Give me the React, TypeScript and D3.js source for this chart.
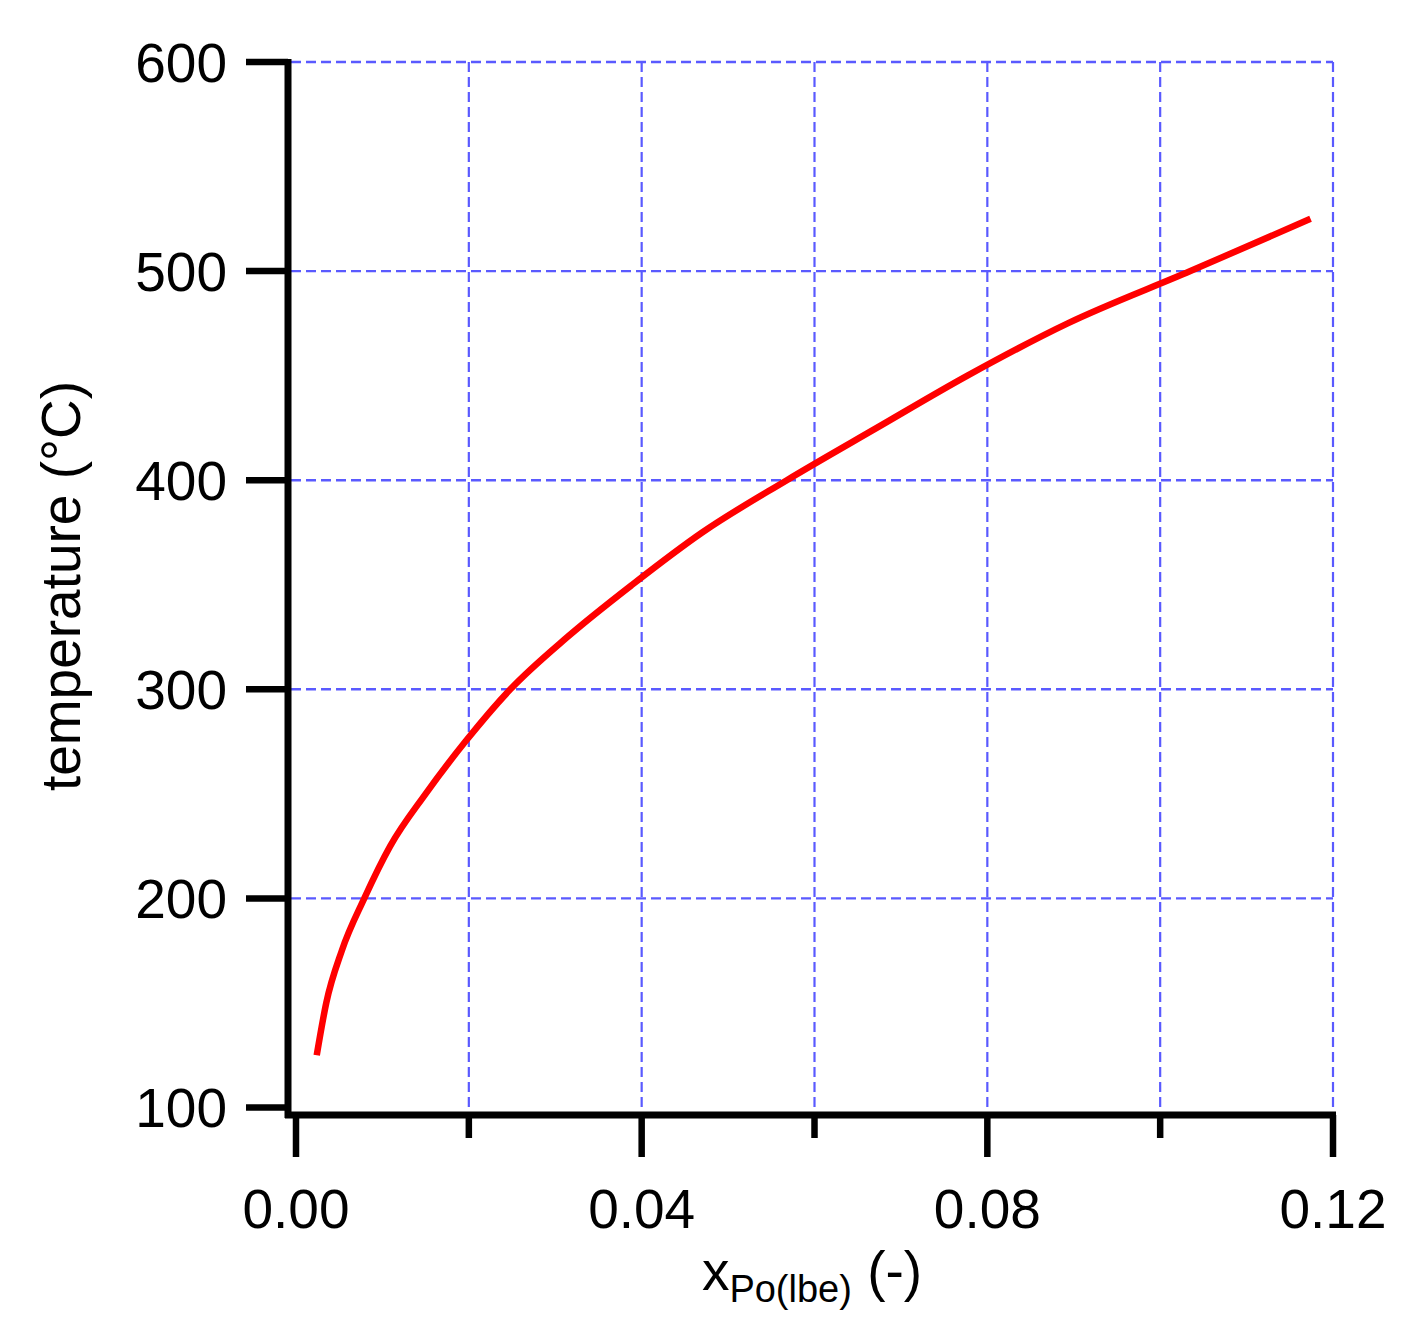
import React from "react";
import * as d3 from "d3";

// ---- data ----
const temperatureC = [125, 150, 175, 200, 225, 250, 275, 300, 325, 350, 375, 400, 425, 450, 475, 500, 525];
const xPoLbe = [0.0024, 0.0035, 0.0053, 0.0079, 0.0109, 0.015, 0.0196, 0.0248, 0.0314, 0.0389, 0.047, 0.0568, 0.0672, 0.0777, 0.0893, 0.1035, 0.1174];

const xMajorTicks = [0, 0.04, 0.08, 0.12];
const xMinorTicks = [0.02, 0.06, 0.1];
const xGridTicks = [0.02, 0.04, 0.06, 0.08, 0.1, 0.12];
const yTicks = [100, 200, 300, 400, 500, 600];
const yGridTicks = [200, 300, 400, 500, 600];

const W = 1415;
const H = 1330;
const FONT = "'Liberation Sans', Arial, Helvetica, sans-serif";
const GRID = "#5a5aff";

export default function App() {
  const x = d3.scaleLinear().domain([0, 0.12]).range([296, 1333]);
  const y = d3.scaleLinear().domain([100, 600]).range([1107.5, 62]);

  const pts = xPoLbe.map((v, i) => [v, temperatureC[i]] as [number, number]);
  const line = d3
    .line<[number, number]>()
    .x((d) => x(d[0]))
    .y((d) => y(d[1]))
    .curve(d3.curveMonotoneX);

  const axisY = 1115;
  const axisX = 288;

  return (
    <svg
      width={W}
      height={H}
      viewBox={`0 0 ${W} ${H}`}
      style={{ position: "absolute", left: 0, top: 0, background: "#fff" }}
    >
      <rect x={0} y={0} width={W} height={H} fill="#fff" />
      {/* grid */}
      {xGridTicks.map((t) => (
        <line
          key={"gx" + t}
          x1={x(t)}
          x2={x(t)}
          y1={y(600)}
          y2={axisY}
          stroke={GRID}
          strokeWidth={2.2}
          strokeDasharray="10,5"
        />
      ))}
      {yGridTicks.map((t) => (
        <line
          key={"gy" + t}
          x1={axisX + 3}
          x2={x(0.12)}
          y1={y(t)}
          y2={y(t)}
          stroke={GRID}
          strokeWidth={2.4}
          strokeDasharray="10,5"
        />
      ))}

      {/* data line */}
      <path d={line(pts) || ""} fill="none" stroke="#ff0000" strokeWidth={6.5} strokeLinejoin="round" />

      {/* y axis */}
      <line x1={axisX} x2={axisX} y1={y(600) - 3} y2={axisY + 3} stroke="#000" strokeWidth={7} />
      {yTicks.map((t) => (
        <g key={"yt" + t}>
          <line x1={246} x2={axisX} y1={y(t)} y2={y(t)} stroke="#000" strokeWidth={6.5} />
          <text
            x={227}
            y={y(t) + 19.5}
            textAnchor="end"
            fontFamily={FONT}
            fontSize={55}
            fill="#000"
          >
            {t}
          </text>
        </g>
      ))}

      {/* x axis */}
      <line x1={axisX - 3} x2={x(0.12) + 3} y1={axisY} y2={axisY} stroke="#000" strokeWidth={7} />
      {xMajorTicks.map((t) => (
        <g key={"xt" + t}>
          <line x1={x(t)} x2={x(t)} y1={axisY} y2={1157} stroke="#000" strokeWidth={6.5} />
          <text x={x(t)} y={1228} textAnchor="middle" fontFamily={FONT} fontSize={55} fill="#000">
            {d3.format(".2f")(t)}
          </text>
        </g>
      ))}
      {xMinorTicks.map((t) => (
        <line key={"xm" + t} x1={x(t)} x2={x(t)} y1={axisY} y2={1138} stroke="#000" strokeWidth={6.5} />
      ))}

      {/* axis titles */}
      <text
        transform={`translate(80, 586) rotate(-90)`}
        textAnchor="middle"
        fontFamily={FONT}
        fontSize={55}
        fill="#000"
      >
        temperature (°C)
      </text>
      <text x={812} y={1290} textAnchor="middle" fontFamily={FONT} fontSize={55} fill="#000">
        x
        <tspan fontSize={38} dy={12}>
          Po(lbe)
        </tspan>
        <tspan dy={-12}> (-)</tspan>
      </text>
    </svg>
  );
}
